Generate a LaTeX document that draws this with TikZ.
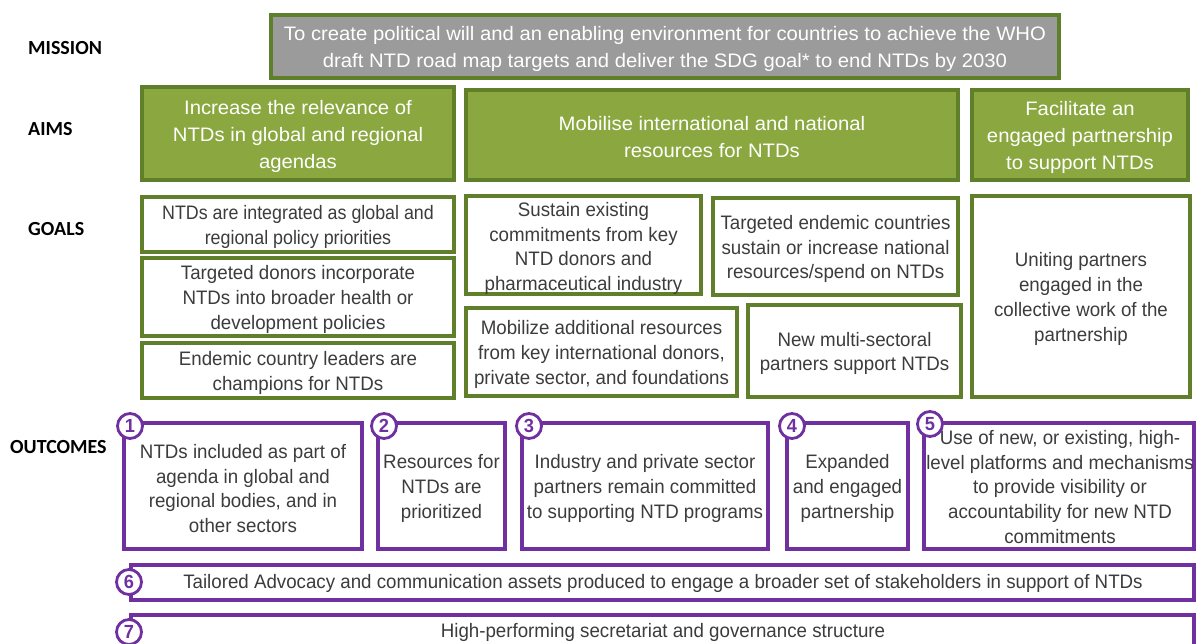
\documentclass[tikz,border=0pt]{standalone}
\usepackage{fontspec}
\setmainfont{Liberation Sans}[FakeStretch=0.96]
\newfontfamily\widefont{Liberation Sans}[FakeStretch=1.04]
\newfontfamily\narrowfont{Liberation Sans}[FakeStretch=0.915]
\newfontfamily\lblfont{Carlito}
\usetikzlibrary{fit}
\definecolor{gborder}{HTML}{5F7F2B}
\definecolor{gfill}{HTML}{8BA840}
\definecolor{mgray}{HTML}{9B9B9B}
\definecolor{purp}{HTML}{7030A0}
\definecolor{txt}{HTML}{3C3C3C}
\tikzset{
  frame/.style={inner sep=0pt, line width=3.2pt},
  gbox/.style={frame, draw=gborder, fill=white},
  aimbox/.style={frame, draw=gborder, fill=gfill},
  misbox/.style={frame, draw=gborder, fill=mgray},
  pbox/.style={frame, draw=purp, fill=white},
  tx/.style={inner sep=0pt, align=center, text=txt, yshift=-2.5pt, font=\fontsize{19.5}{24.8}\selectfont},
  wtx/.style={inner sep=0pt, align=center, text=white, yshift=-2.5pt, font=\widefont\fontsize{19.5}{27}\selectfont},
  num/.style={circle, draw=purp, line width=2.8pt, fill=white, text=purp, inner sep=0pt, minimum size=25pt, font=\fontsize{19}{19}\selectfont\bfseries},
  rowlbl/.style={anchor=west, inner sep=0pt, font=\lblfont\fontsize{20}{20}\selectfont\bfseries, text=black}
}
\begin{document}
\begin{tikzpicture}[x=1pt,y=-1pt]
\useasboundingbox (0,0) rectangle (1196,644);
% row labels
\node[rowlbl] (lm) at (28,48) {MISSION};
\node[rowlbl] (la) at (28,129) {AIMS};
\node[rowlbl] (lg) at (28,229) {GOALS};
\node[rowlbl] (lo) at (10,447) {OUTCOMES};
% mission
\node[misbox, fit={(271,15) (1059,78)}] (m) {};
\node[wtx] (mt) at (m.center) {To create political will and an enabling environment for countries to achieve the WHO\\draft NTD road map targets and deliver the SDG goal* to end NTDs by 2030};
% aims
\node[aimbox, fit={(142,87) (454,180)}] (a1) {};
\node[wtx] (a1t) at (a1.center) {Increase the relevance of\\NTDs in global and regional\\agendas};
\node[aimbox, fit={(466,90) (958,180)}] (a2) {};
\node[wtx] (a2t) at (a2.center) {Mobilise international and national\\resources for NTDs};
\node[aimbox, fit={(972,90) (1188,180)}] (a3) {};
\node[wtx] (a3t) at (a3.center) {Facilitate an\\engaged partnership\\to support NTDs};
% goals
\node[gbox, fit={(142,197) (454,252)}] (g1a) {};
\node[tx, font=\narrowfont\fontsize{19.5}{24.8}\selectfont] (g1at) at (g1a.center) {NTDs are integrated as global and\\regional policy priorities};
\node[gbox, fit={(142,258) (454,336)}] (g1b) {};
\node[tx] (g1bt) at (g1b.center) {Targeted donors incorporate\\NTDs into broader health or\\development policies};
\node[gbox, fit={(142,343) (454,398)}] (g1c) {};
\node[tx] (g1ct) at (g1c.center) {Endemic country leaders are\\champions for NTDs};
\node[gbox, fit={(466,196) (701,294)}] (g2a) {};
\node[tx] (g2at) at ([yshift=-1pt]g2a.center) {Sustain existing\\commitments from key\\NTD donors and\\pharmaceutical industry};
\node[gbox, fit={(713,198) (958,295)}] (g2b) {};
\node[tx] (g2bt) at (g2b.center) {Targeted endemic countries\\sustain or increase national\\resources/spend on NTDs};
\node[gbox, fit={(466,308) (737,396)}] (g2c) {};
\node[tx] (g2ct) at (g2c.center) {Mobilize additional resources\\from key international donors,\\private sector, and foundations};
\node[gbox, fit={(748,305) (961,397)}] (g2d) {};
\node[tx] (g2dt) at (g2d.center) {New multi-sectoral\\partners support NTDs};
\node[gbox, fit={(972,196) (1190,397)}] (g3) {};
\node[tx] (g3t) at (g3.center) {Uniting partners\\engaged in the\\collective work of the\\partnership};
% outcomes
\node[pbox, fit={(124,423) (362,549)}] (o1) {};
\node[tx] (o1t) at (o1.center) {NTDs included as part of\\agenda in global and\\regional bodies, and in\\other sectors};
\node[pbox, fit={(378,423) (505,549)}] (o2) {};
\node[tx] (o2t) at (o2.center) {Resources for\\NTDs are\\prioritized};
\node[pbox, fit={(522,423) (768,549)}] (o3) {};
\node[tx] (o3t) at (o3.center) {Industry and private sector\\partners remain committed\\to supporting NTD programs};
\node[pbox, fit={(787,423) (908,549)}] (o4) {};
\node[tx] (o4t) at (o4.center) {Expanded\\and engaged\\partnership};
\node[pbox, fit={(924,423) (1194,549)}] (o5) {};
\node[tx] (o5t) at (1060,484.5) {Use of new, or existing, high-\\level platforms and mechanisms\\to provide visibility or\\accountability for new NTD\\commitments};
\node[pbox, fit={(131,565) (1194,600)}] (o6) {};
\node[tx] (o6t) at (663,581) {Tailored Advocacy and communication assets produced to engage a broader set of stakeholders in support of NTDs};
\node[pbox, fit={(131,615) (1194,662)}] (o7) {};
\node[tx] (o7t) at (663,630) {High-performing secretariat and governance structure};
% numbers
\node[num] (c1) at (130,426) {1};
\node[num] (c2) at (384,426) {2};
\node[num] (c3) at (529,426) {3};
\node[num] (c4) at (792,426) {4};
\node[num] (c5) at (930,424) {5};
\node[num] (c6) at (129,582) {6};
\node[num] (c7) at (129,632) {7};
\end{tikzpicture}
\end{document}
